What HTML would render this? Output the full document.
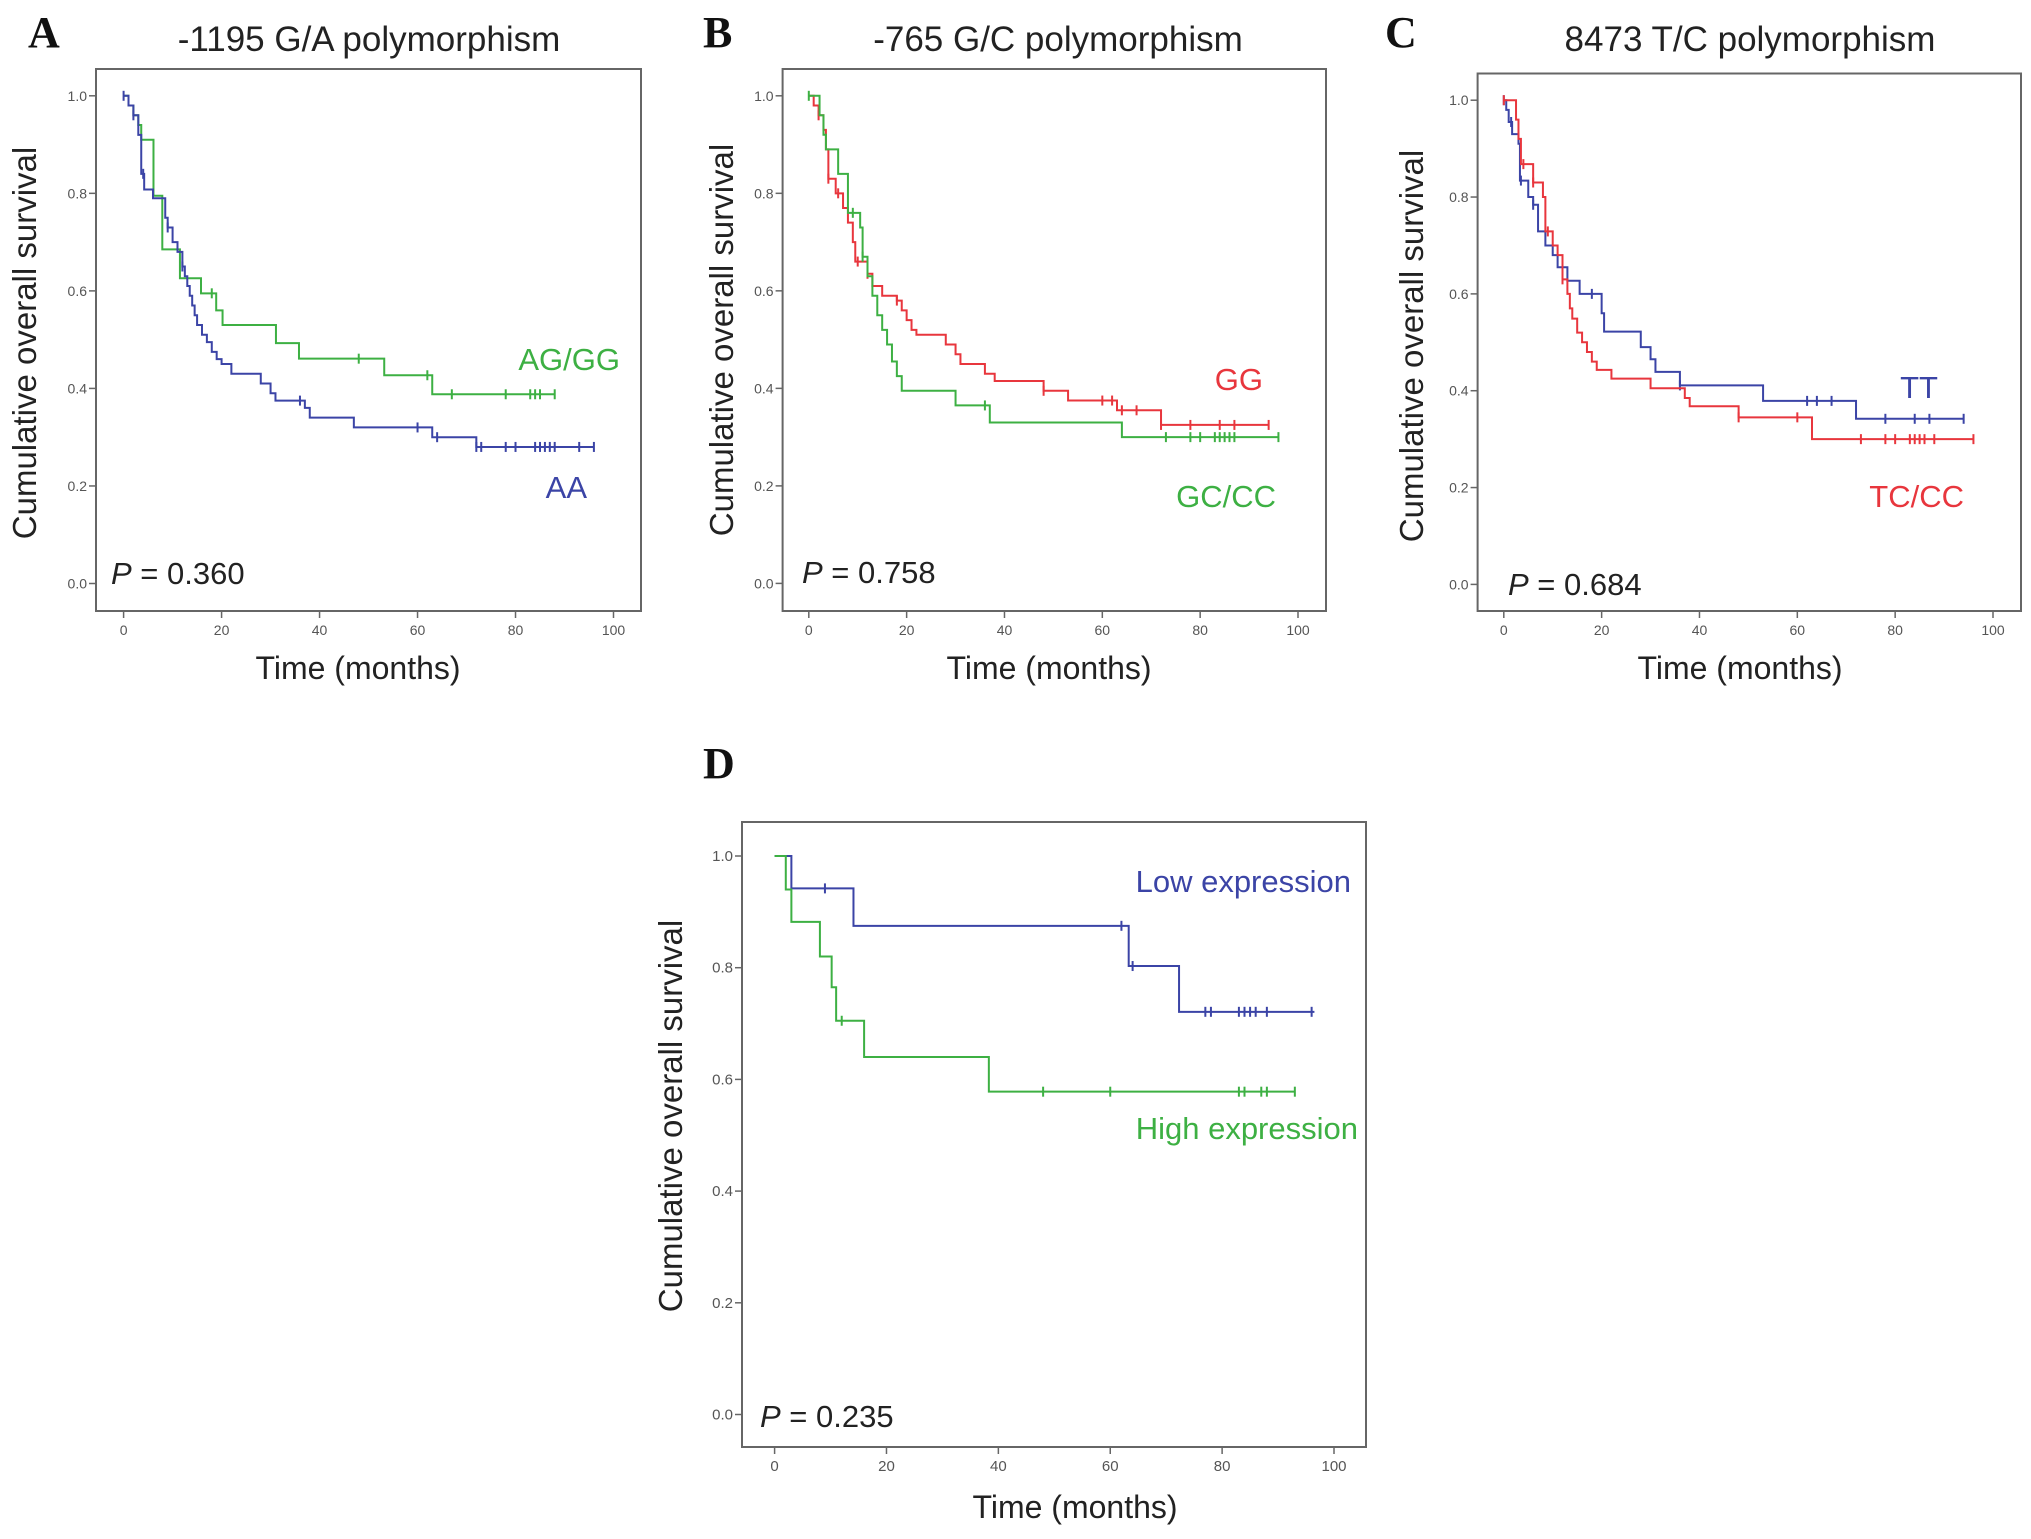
<!DOCTYPE html>
<html><head><meta charset="utf-8"><style>
html,body{margin:0;padding:0;background:#fff;}
svg{display:block;font-family:"Liberation Sans",sans-serif;}
</style></head><body>
<svg id="fig" width="2031" height="1539" viewBox="0 0 2031 1539" xmlns="http://www.w3.org/2000/svg"></svg>
<script>
// ---- Data (time in months, survival fraction) ----
const xTicks = [0,20,40,60,80,100];
const yTicks = [0.0,0.2,0.4,0.6,0.8,1.0];
const yTickLabels = ["0.0","0.2","0.4","0.6","0.8","1.0"];

// Panel A
const aGreenTimes = [1,2,3,3.6,6.1,7.9,11.5,15.8,18.9,20.2,31.1,35.8,53.2,63];
const aGreenSurv  = [0.98,0.96,0.94,0.91,0.795,0.685,0.626,0.595,0.56,0.53,0.493,0.461,0.427,0.388];
const aGreenEnd = 88;
const aGreenCens = [18,48,62,67,78,83,84,85,88];
const aBlueTimes = [1,2,3,3.6,4.2,6,8.5,9,10,11,12,12.5,13,13.5,14,14.5,15,16,17,18,19,20,22,28,30,31,37,38,47,63,72];
const aBlueSurv  = [0.98,0.96,0.92,0.84,0.808,0.79,0.75,0.73,0.70,0.68,0.65,0.63,0.61,0.59,0.57,0.55,0.53,0.51,0.495,0.475,0.46,0.45,0.43,0.41,0.39,0.375,0.36,0.34,0.32,0.30,0.28];
const aBlueEnd = 96;
const aBlueCens = [0,2,4,9,12,36,60,64,72,73,78,80,84,85,86,87,88,93,96];

// Panel B
const bRedTimes = [1,2,3,3.5,4,5.5,7,8,9,9.5,12,13,15,18,19,20,21,22,28,30,31,36,38,48,53,63,72];
const bRedSurv  = [0.98,0.96,0.93,0.89,0.83,0.80,0.77,0.74,0.70,0.66,0.635,0.61,0.59,0.58,0.56,0.54,0.52,0.51,0.49,0.47,0.45,0.43,0.415,0.395,0.375,0.355,0.325];
const bRedEnd = 94;
const bRedCens = [2,4,6,10,12,18,48,60,62,64,67,72,78,84,87,94];
const bGreenTimes = [2.2,3,3.5,6,8,10.5,11,12,13,14,15,16,17,18,19,30,37,64];
const bGreenSurv  = [0.96,0.92,0.89,0.84,0.76,0.73,0.67,0.63,0.59,0.55,0.52,0.49,0.455,0.425,0.395,0.365,0.33,0.30];
const bGreenEnd = 96;
const bGreenCens = [0,9,11,36,73,78,80,83,84,85,86,87,96];

// Panel C
const cBlueTimes = [0.5,1,1.7,3,3.3,5,6,7,8.5,10,11,13,15.5,20,20.5,28,30,31,36,53,72];
const cBlueSurv  = [0.98,0.955,0.93,0.91,0.834,0.80,0.784,0.729,0.70,0.68,0.655,0.627,0.60,0.56,0.522,0.49,0.465,0.439,0.411,0.379,0.342];
const cBlueEnd = 94;
const cBlueCens = [0,1.5,3.5,6,18,36,62,64,67,78,84,87,94];
const cRedTimes = [2.5,3,3.5,6,8,8.5,10,11,12,13,13.5,14,15,16,17,18,19,22,30,37,38,48,63];
const cRedSurv  = [0.96,0.92,0.868,0.83,0.80,0.729,0.70,0.68,0.63,0.60,0.57,0.549,0.52,0.50,0.48,0.46,0.443,0.425,0.405,0.385,0.368,0.345,0.30];
const cRedEnd = 96;
const cRedCens = [0,4,6,9,12,48,60,73,78,80,83,84,85,86,88,96];

// Panel D
const dLowTimes = [3,14.1,63.3,72.3];
const dLowSurv  = [0.942,0.875,0.803,0.721];
const dLowEnd = 96.5;
const dLowCens = [9,62,64,77,78,83,84,85,86,88,96];
const dHighTimes = [2,3,8.1,10.2,11,16,38.3];
const dHighSurv  = [0.94,0.882,0.82,0.765,0.705,0.64,0.578];
const dHighEnd = 93;
const dHighCens = [12,48,60,83,84,87,88,93];

const BLUE="#3b44a6", GREEN="#3db043", RED="#e8363d";
const NS="http://www.w3.org/2000/svg";
const svg=document.getElementById('fig');
function mk(tag,attrs,parent,text){
  const e=document.createElementNS(NS,tag);
  for(const k in attrs) e.setAttribute(k,attrs[k]);
  if(text!==undefined) e.textContent=text;
  (parent||svg).appendChild(e);
  return e;
}

const panels=[
 {id:'a',letter:'A',title:'-1195 G/A polymorphism',fl:96,fr:641,ft:69,fb:611,x0:123.6,x100:613.5,y1:95.8,y0:583.5,
  letterX:28,titleX:369,titleY:51,ylabX:25,ylabY:343,xlabX:358,xlabY:679,pX:111,pY:584,tickFs:14,pval:'0.360',
  series:[
   {name:'AG/GG',color:GREEN,t:aGreenTimes,s:aGreenSurv,end:aGreenEnd,c:aGreenCens,lx:620,ly:370},
   {name:'AA',color:BLUE,t:aBlueTimes,s:aBlueSurv,end:aBlueEnd,c:aBlueCens,lx:587,ly:498}]},
 {id:'b',letter:'B',title:'-765 G/C polymorphism',fl:782.6,fr:1326,ft:69,fb:611,x0:808.8,x100:1298,y1:95.8,y0:583.4,
  letterX:703,titleX:1058,titleY:51,ylabX:722,ylabY:340,xlabX:1049,xlabY:679,pX:802,pY:583,tickFs:14,pval:'0.758',
  series:[
   {name:'GG',color:RED,t:bRedTimes,s:bRedSurv,end:bRedEnd,c:bRedCens,lx:1263,ly:390},
   {name:'GC/CC',color:GREEN,t:bGreenTimes,s:bGreenSurv,end:bGreenEnd,c:bGreenCens,lx:1276,ly:507}]},
 {id:'c',letter:'C',title:'8473 T/C polymorphism',fl:1477.6,fr:2021,ft:73.5,fb:611,x0:1503.8,x100:1993,y1:100.2,y0:584.4,
  letterX:1385,titleX:1750,titleY:51,ylabX:1412,ylabY:346,xlabX:1740,xlabY:679,pX:1508,pY:595,tickFs:14,pval:'0.684',
  series:[
   {name:'TT',color:BLUE,t:cBlueTimes,s:cBlueSurv,end:cBlueEnd,c:cBlueCens,lx:1938,ly:398},
   {name:'TC/CC',color:RED,t:cRedTimes,s:cRedSurv,end:cRedEnd,c:cRedCens,lx:1964,ly:507}]},
 {id:'d',letter:'D',title:'',fl:742,fr:1366,ft:822,fb:1447,x0:774.6,x100:1334,y1:856,y0:1414.5,
  letterX:703,titleX:0,titleY:0,ylabX:671,ylabY:1116,xlabX:1075,xlabY:1518,pX:760,pY:1427,tickFs:15,letterY:778,pval:'0.235',
  series:[
   {name:'Low expression',color:BLUE,t:dLowTimes,s:dLowSurv,end:dLowEnd,c:dLowCens,lx:1351,ly:892},
   {name:'High expression',color:GREEN,t:dHighTimes,s:dHighSurv,end:dHighEnd,c:dHighCens,lx:1358,ly:1139}]}
];

panels.forEach(p=>{
  const g=mk('g',{});
  
  
  const X=v=>p.x0+(p.x100-p.x0)*v/100;
  const Y=v=>p.y0+(p.y1-p.y0)*v;
  const L=mk('text',{x:p.letterX,y:p.letterY||47,'font-family':'Liberation Serif,serif','font-weight':'bold','font-size':44,fill:'#111'},g,p.letter);
  
  
  if(p.title){
    const t=mk('text',{x:p.titleX,y:p.titleY,'text-anchor':'middle','font-size':35,fill:'#222'},g,p.title);
    
    
  }
  const fr=mk('rect',{x:p.fl,y:p.ft,width:p.fr-p.fl,height:p.fb-p.ft,fill:'none',stroke:'#666','stroke-width':2},g);
  
  
  yTicks.forEach((v,i)=>{
    mk('line',{x1:p.fl-7,x2:p.fl,y1:Y(v),y2:Y(v),stroke:'#666','stroke-width':1.5},g);
    const tl=mk('text',{x:p.fl-9,y:Y(v)+5,'text-anchor':'end','font-size':p.tickFs,fill:'#555'},g,yTickLabels[i]);
    
    
  });
  xTicks.forEach(v=>{
    mk('line',{x1:X(v),x2:X(v),y1:p.fb,y2:p.fb+7,stroke:'#666','stroke-width':1.5},g);
    const tl=mk('text',{x:X(v),y:p.fb+24,'text-anchor':'middle','font-size':p.tickFs,fill:'#555'},g,String(v));
    
    
  });
  const yl=mk('text',{x:0,y:0,transform:`translate(${p.ylabX+11},${p.ylabY}) rotate(-90)`,'text-anchor':'middle','font-size':33,fill:'#222'},g,'Cumulative overall survival');
  
  
  const xl=mk('text',{x:p.xlabX,y:p.xlabY,'text-anchor':'middle','font-size':32,fill:'#222'},g,'Time (months)');
  
  
  const pt=mk('text',{x:p.pX,y:p.pY,'font-size':31,fill:'#222'},g);
  
  
  mk('tspan',{'font-style':'italic'},pt,'P');
  mk('tspan',{},pt,' = '+p.pval);
  p.series.forEach(s=>{
    let d=`M${X(0)},${Y(1)}`;
    s.t.forEach((t,i)=>{ d+=` H${X(t)} V${Y(s.s[i])}`; });
    d+=` H${X(s.end)}`;
    const path=mk('path',{d:d,fill:'none',stroke:s.color,'stroke-width':2},g);
    
    
    const surv=t=>{let v=1; s.t.forEach((tt,i)=>{if(tt<=t) v=s.s[i];}); return v;};
    s.c.forEach(c=>{
      const cm=mk('line',{x1:X(c),x2:X(c),y1:Y(surv(c))-5,y2:Y(surv(c))+5,stroke:s.color,'stroke-width':2},g);
      
      
    });
    const lab=mk('text',{x:s.lx,y:s.ly,'text-anchor':'end','font-size':31,fill:s.color},g,s.name);
    
    
  });
});
</script>
</body></html>
